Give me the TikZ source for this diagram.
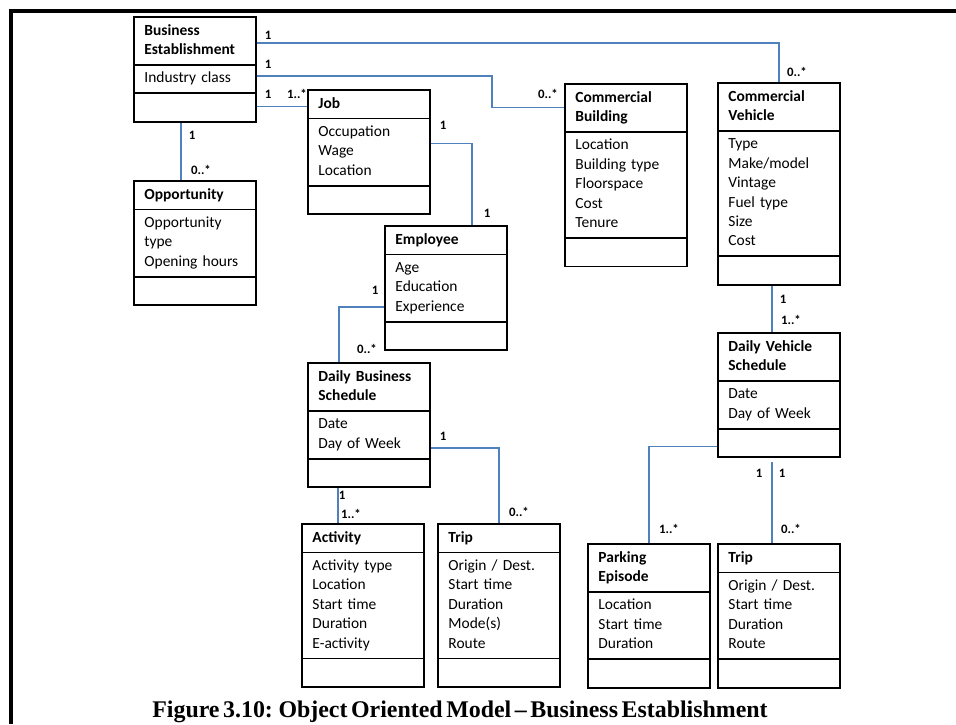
\documentclass[tikz,border=0pt]{standalone}
\usepackage{fontspec}
\setmainfont{Carlito}
\newfontfamily\captionserif{Liberation Serif}
\usetikzlibrary{shapes.multipart, calc}
\definecolor{assocblue}{RGB}{79, 129, 189}
\newcommand{\classparts}[2]{{\bfseries\strut #1\strut}\nodepart{two}\strut #2\strut\nodepart{three}\strut}

\begin{document}
\begin{tikzpicture}[x=0.02cm, y=-0.02cm,
        umlclass/.style={draw=black, line width=1pt, rectangle split, rectangle split parts=3,
            text width=57.4pt, inner xsep=6pt, inner ysep=2.1pt, align=left, anchor=north west,
            font=\fontsize{8.8}{11.04}\selectfont},
        assoc/.style={draw=assocblue, line width=1pt},
        mult/.style={font=\fontsize{7.3}{8}\selectfont\bfseries, inner sep=0pt},
        frame/.style={line width=2pt}
    ]
        \useasboundingbox (0,0) rectangle (956,724);
        \draw [frame] (956,11) -- (11,11) -- (11,724);

        % Classes
        \node (be) [umlclass] at (133, 16) {\classparts{Business\\Establishment}{Industry class}};
        \node (opp) [umlclass] at (133, 180) {\classparts{Opportunity}{Opportunity\\type\\Opening hours}};
        \node (job) [umlclass] at (307, 89) {\classparts{Job}{Occupation\\Wage\\Location}};
        \node (cb) [umlclass] at (564, 83) {\classparts{Commercial\\Building}{Location\\Building type\\Floorspace\\Cost\\Tenure}};
        \node (cv) [umlclass] at (717, 82) {\classparts{Commercial\\Vehicle}{Type\\Make/model\\Vintage\\Fuel type\\Size\\Cost}};
        \node (emp) [umlclass] at (384, 225) {\classparts{Employee}{Age\\Education\\Experience}};
        \node (dbs) [umlclass] at (307, 362) {\classparts{Daily Business\\Schedule}{Date\\Day of Week}};
        \node (dvs) [umlclass] at (717, 332) {\classparts{Daily Vehicle\\Schedule}{Date\\Day of Week}};
        \node (act) [umlclass] at (301, 523) {\classparts{Activity}{Activity type\\Location\\Start time\\Duration\\E-activity}};
        \node (tripb) [umlclass] at (437, 523) {\classparts{Trip}{Origin / Dest.\\Start time\\Duration\\Mode(s)\\Route}};
        \node (park) [umlclass] at (587, 543) {\classparts{Parking\\Episode}{Location\\Start time\\Duration}};
        \node (tripv) [umlclass] at (717, 543) {\classparts{Trip}{Origin / Dest.\\Start time\\Duration\\Route}};

        % Associations
        \coordinate (bejob) at ($(be.two split east)!.45!(be.south east)$);
        \draw [assoc] ($(be.north east)!.55!(be.text split east)$) -| (cv.north);
        \draw [assoc] ($(be.text split east)!.4!(be.two split east)$) -- ++(235,0) |- ($(cb.north west)!.5!(cb.text split west)$);
        \draw [assoc] (bejob) -- (bejob -| job.west);
        \draw [assoc] ($(be.south)+(-14,0)$) -- ($(opp.north)+(-14,0)$);
        \draw [assoc] ($(job.text split east)+(0,25)$) -| ($(emp.north east)+(-36,0)$);
        \draw [assoc] ($(emp.two split west)+(0,-15)$) -| ($(dbs.north west)+(32,0)$);
        \draw [assoc] ($(dbs.south west)+(31,0)$) -- ($(act.north west)+(37,0)$);
        \draw [assoc] ($(dbs.two split east)+(0,-11)$) -| (tripb.north);
        \draw [assoc] ($(cv.south)+(-7,0)$) -- ($(dvs.north)+(-7,0)$);
        \draw [assoc] ($(dvs.two split west)!.6!(dvs.south west)$) -| (park.north);
        \draw [assoc] ($(dvs.south)+(-7,4)$) -- ($(tripv.north)+(-7,0)$);

        % Multiplicities
        \node (m1a) [mult] at (268, 35) {1};
        \node (m1b) [mult] at (797, 72) {0..*};
        \node (m2a) [mult] at (268, 64) {1};
        \node (m2b) [mult] at (548, 94) {0..*};
        \node (m3a) [mult] at (268, 94) {1};
        \node (m3b) [mult] at (297, 94) {1..*};
        \node (m4a) [mult] at (192, 135) {1};
        \node (m4b) [mult] at (201, 170) {0..*};
        \node (m5a) [mult] at (443, 125) {1};
        \node (m5b) [mult] at (487, 213) {1};
        \node (m6a) [mult] at (375, 290) {1};
        \node (m6b) [mult] at (367, 349) {0..*};
        \node (m7a) [mult] at (342, 495) {1};
        \node (m7b) [mult] at (351, 514) {1..*};
        \node (m8a) [mult] at (443, 436) {1};
        \node (m8b) [mult] at (519, 512) {0..*};
        \node (m9a) [mult] at (783, 299) {1};
        \node (m9b) [mult] at (791, 320) {1..*};
        \node (m10b) [mult] at (669, 529) {1..*};
        \node (m11a) [mult] at (759, 473) {1};
        \node (m11c) [mult] at (782, 473) {1};
        \node (m11b) [mult] at (791, 529) {0..*};

        % Caption
        \node (caption) [anchor=base, font=\captionserif\fontsize{13.6}{16}\selectfont\bfseries] at (460, 717)
            {\spaceskip=0.15em\relax Figure 3.10: Object Oriented Model – Business Establishment};
    \end{tikzpicture}
\end{document}
